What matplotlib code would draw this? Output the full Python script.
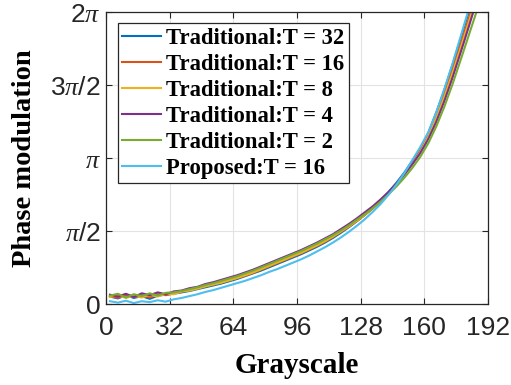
import numpy as np
import matplotlib
matplotlib.use("Agg")
import matplotlib.pyplot as plt

plt.rcParams['mathtext.fontset'] = 'custom'
plt.rcParams['mathtext.rm'] = 'Liberation Sans'
plt.rcParams['mathtext.it'] = 'Liberation Serif:italic'

# grayscale levels (every 4th level)
gray = np.arange(2, 191, 4)

t32 = [0.16, 0.12, 0.19, 0.13, 0.17, 0.11, 0.18, 0.20, 0.22, 0.25, 0.28, 0.32, 0.36, 0.40, 0.44, 0.49,
       0.54, 0.60, 0.66, 0.72, 0.79, 0.86, 0.93, 1.00, 1.07, 1.15, 1.23, 1.32, 1.42, 1.53, 1.65, 1.78,
       1.92, 2.07, 2.23, 2.41, 2.61, 2.83, 3.08, 3.30, 3.68, 4.12, 4.60, 5.12, 5.68, 6.24, 6.80, 7.30]
t16 = [0.17, 0.13, 0.20, 0.15, 0.19, 0.14, 0.21, 0.19, 0.23, 0.26, 0.30, 0.34, 0.38, 0.42, 0.46, 0.51,
       0.56, 0.61, 0.67, 0.74, 0.81, 0.88, 0.95, 1.02, 1.09, 1.17, 1.25, 1.34, 1.44, 1.55, 1.66, 1.78,
       1.91, 2.05, 2.21, 2.39, 2.58, 2.80, 3.04, 3.31, 3.64, 4.04, 4.50, 5.01, 5.55, 6.10, 6.66, 7.18]
t8 = [0.15, 0.19, 0.13, 0.18, 0.14, 0.20, 0.16, 0.22, 0.21, 0.27, 0.29, 0.33, 0.38, 0.42, 0.46, 0.51,
      0.56, 0.62, 0.68, 0.75, 0.82, 0.89, 0.96, 1.03, 1.10, 1.18, 1.26, 1.35, 1.45, 1.56, 1.67, 1.79,
      1.92, 2.06, 2.21, 2.38, 2.57, 2.78, 3.01, 3.27, 3.60, 4.00, 4.45, 4.95, 5.48, 6.02, 6.58, 7.10]
t4 = [0.20, 0.16, 0.22, 0.15, 0.23, 0.19, 0.25, 0.21, 0.27, 0.29, 0.34, 0.37, 0.43, 0.47, 0.52, 0.57,
      0.62, 0.68, 0.74, 0.81, 0.88, 0.95, 1.02, 1.09, 1.16, 1.24, 1.32, 1.41, 1.50, 1.61, 1.72, 1.84,
      1.97, 2.10, 2.25, 2.41, 2.59, 2.79, 3.01, 3.25, 3.55, 3.92, 4.36, 4.85, 5.38, 5.92, 6.48, 7.00]
t2 = [0.18, 0.22, 0.14, 0.21, 0.17, 0.23, 0.18, 0.24, 0.25, 0.28, 0.32, 0.36, 0.41, 0.45, 0.50, 0.55,
      0.60, 0.66, 0.72, 0.79, 0.86, 0.93, 1.00, 1.07, 1.14, 1.22, 1.30, 1.39, 1.48, 1.58, 1.69, 1.81,
      1.93, 2.06, 2.20, 2.36, 2.53, 2.72, 2.93, 3.17, 3.46, 3.82, 4.24, 4.71, 5.22, 5.74, 6.26, 6.76]
prop16 = [0.06, 0.03, 0.07, 0.02, 0.06, 0.04, 0.08, 0.05, 0.10, 0.13, 0.17, 0.21, 0.26, 0.30, 0.35, 0.40,
          0.45, 0.50, 0.56, 0.62, 0.69, 0.75, 0.82, 0.89, 0.96, 1.04, 1.13, 1.22, 1.32, 1.43, 1.55, 1.68,
          1.82, 1.98, 2.15, 2.35, 2.57, 2.82, 3.10, 3.38, 3.70, 4.12, 4.62, 5.15, 5.72, 6.30, 6.88, 7.40]

series = [t32, t16, t8, t4, t2, prop16]
labels = ["Traditional:T = 32", "Traditional:T = 16", "Traditional:T = 8",
          "Traditional:T = 4", "Traditional:T = 2", "Proposed:T = 16"]
colors = ["#0072BD", "#D95319", "#EDB120", "#7E2F8E", "#77AC30", "#4DBEEE"]

xticks = [0, 32, 64, 96, 128, 160, 192]
yticks = [0, np.pi / 2, np.pi, 3 * np.pi / 2, 2 * np.pi]
ytick_labels = [r"$0$", r"$\pi/2$", r"$\pi$", r"$3\pi/2$", r"$2\pi$"]

fig = plt.figure(figsize=(5.11, 3.85), dpi=100)
ax = fig.add_axes([0.2074, 0.2104, 0.7476, 0.7584])

for y, lab, c in zip(series, labels, colors):
    ax.plot(gray, y, color=c, lw=1.5, label=lab)

ax.set_xlim(0, 192)
ax.set_ylim(0, 2 * np.pi)
ax.set_xticks(xticks)
ax.set_yticks(yticks)
ax.set_yticklabels(ytick_labels)
ax.grid(True, color="#e3e3e3", lw=0.8)
ax.set_axisbelow(True)
ax.tick_params(direction="in", top=True, right=True, length=4, width=0.8,
               labelsize=19, colors="#262626")
ax.tick_params(axis="x", pad=9)
ax.tick_params(axis="y", pad=4)
for lab in ax.get_xticklabels():
    lab.set_fontfamily("Liberation Sans")
for s in ax.spines.values():
    s.set_color("#262626")
    s.set_linewidth(0.9)

ax.set_xlabel("Grayscale", fontfamily="Liberation Serif", fontweight="bold",
              fontsize=21, labelpad=8)
ax.set_ylabel("Phase modulation", fontfamily="Liberation Serif", fontweight="bold",
              fontsize=20.5, labelpad=9)

leg = ax.legend(loc="upper left", bbox_to_anchor=(0.031, 0.962), borderaxespad=0,
                prop={"family": "Liberation Serif", "weight": "bold", "size": 16.3},
                handlelength=1.7, handletextpad=0.25, labelspacing=0.22,
                borderpad=0.2, fancybox=False, framealpha=1)
leg.get_frame().set_edgecolor("#262626")
leg.get_frame().set_linewidth(0.9)

fig.savefig("out.png", dpi=100)
